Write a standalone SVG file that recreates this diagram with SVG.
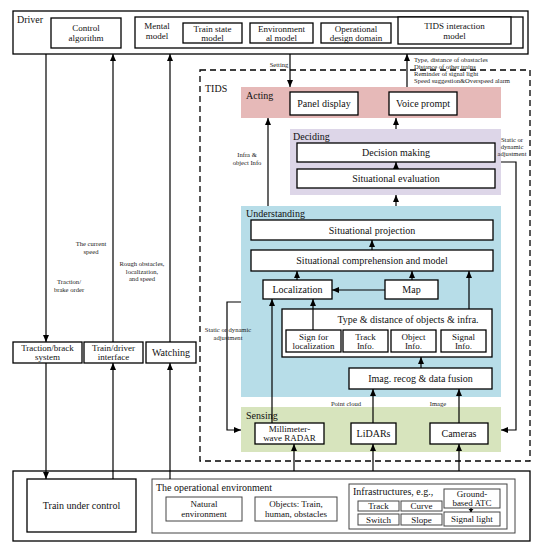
<svg xmlns="http://www.w3.org/2000/svg" width="542" height="550" viewBox="0 0 542 550">
<style>
.box{fill:#fff;stroke:#000;stroke-width:1.3}
.gbox{fill:#fff;stroke:#444;stroke-width:1}
.ln{fill:none;stroke:#000;stroke-width:1.2}
.t{font-family:"Liberation Serif","Times New Roman",serif;font-size:10px;fill:#111;text-anchor:middle}
.t2{font-family:"Liberation Serif","Times New Roman",serif;font-size:9px;fill:#111;text-anchor:middle}
.tl{font-family:"Liberation Serif","Times New Roman",serif;font-size:10px;fill:#111}
.s{font-family:"Liberation Serif","Times New Roman",serif;font-size:6.6px;fill:#222;text-anchor:middle}
.sl{font-family:"Liberation Serif","Times New Roman",serif;font-size:6.6px;fill:#222}
</style>
<defs>
<marker id="ah" markerUnits="userSpaceOnUse" markerWidth="7" markerHeight="6" refX="7" refY="3" orient="auto">
<path d="M0,0 L7,3 L0,6 z" fill="#000"/>
</marker>
</defs>
<rect width="542" height="550" fill="#fff"/>

<g id="driver">
<rect x="13" y="11" width="515" height="43" class="box"/>
<text x="17" y="23" class="tl">Driver</text>
</g>
<g id="control-algorithm">
<rect x="51" y="18" width="70" height="30" class="box"/>
<text x="86" y="30.5" class="t2">Control</text>
<text x="86" y="40.5" class="t2">algorithm</text>
</g>
<g id="mental-model">
<rect x="135" y="17" width="388" height="31" class="box"/>
<text x="157" y="28.5" class="t2">Mental</text>
<text x="157" y="38.5" class="t2">model</text>
</g>
<g id="train-state-model">
<rect x="183" y="23" width="59" height="20" class="box"/>
<text x="212.5" y="31.5" class="t2">Train state</text>
<text x="212.5" y="40.5" class="t2">model</text>
</g>
<g id="environmental-model">
<rect x="250" y="23" width="63" height="20" class="box"/>
<text x="281.5" y="31.5" class="t2">Environment</text>
<text x="281.5" y="40.5" class="t2">al model</text>
</g>
<g id="odd">
<rect x="321" y="23" width="70" height="20" class="box"/>
<text x="356" y="31.5" class="t2">Operational</text>
<text x="356" y="40.5" class="t2">design domain</text>
</g>
<g id="tids-interaction-model">
<rect x="398" y="17" width="113" height="27" class="box"/>
<text x="454.5" y="28.5" class="t2">TIDS interaction</text>
<text x="454.5" y="38.5" class="t2">model</text>
</g>

<g id="tids">
<rect x="200" y="70" width="330" height="391" fill="none" stroke="#000" stroke-width="1.3" stroke-dasharray="6,4"/>
<text x="205" y="92" class="tl" font-size="11">TIDS</text>
</g>

<g id="acting">
<rect x="241" y="87" width="260" height="31" fill="#e6b9b8"/>
<text x="246" y="99" class="tl">Acting</text>
</g>
<g id="panel-display">
<rect x="290" y="92" width="68" height="23" class="box"/>
<text x="324" y="107" class="t">Panel display</text>
</g>
<g id="voice-prompt">
<rect x="389" y="92" width="68" height="23" class="box"/>
<text x="423" y="107" class="t">Voice prompt</text>
</g>

<g id="deciding">
<rect x="290" y="129" width="211" height="66" fill="#ddd6e8"/>
<text x="293" y="140" class="tl">Deciding</text>
</g>
<g id="decision-making">
<rect x="297" y="143" width="198" height="19" class="box"/>
<text x="396" y="156" class="t">Decision making</text>
</g>
<g id="situational-evaluation">
<rect x="297" y="169" width="198" height="19" class="box"/>
<text x="396" y="182" class="t">Situational evaluation</text>
</g>

<g id="understanding">
<rect x="241" y="206" width="260" height="191" fill="#b7dde8"/>
<text x="246" y="217" class="tl">Understanding</text>
</g>
<g id="situational-projection">
<rect x="251" y="220" width="242" height="20" class="box"/>
<text x="372" y="233.5" class="t">Situational projection</text>
</g>
<g id="situational-comprehension">
<rect x="251" y="250" width="242" height="21" class="box"/>
<text x="372" y="264" class="t">Situational comprehension and model</text>
</g>
<g id="localization">
<rect x="263" y="280" width="69" height="19" class="box"/>
<text x="297.5" y="293" class="t">Localization</text>
</g>
<g id="map">
<rect x="385" y="280" width="53" height="19" class="box"/>
<text x="411.5" y="293" class="t">Map</text>
</g>
<g id="type-distance">
<rect x="282" y="309" width="210" height="48" class="box"/>
<text x="408" y="323" class="t">Type &amp; distance of objects &amp; infra.</text>
</g>
<g id="sign-for-localization">
<rect x="286" y="330" width="55" height="22" class="box"/>
<text x="313.5" y="339.5" class="t2">Sign for</text>
<text x="313.5" y="348.5" class="t2">localization</text>
</g>
<g id="track-info">
<rect x="343" y="330" width="45" height="22" class="box"/>
<text x="365.5" y="339.5" class="t2">Track</text>
<text x="365.5" y="348.5" class="t2">Info.</text>
</g>
<g id="object-info">
<rect x="391" y="330" width="45" height="22" class="box"/>
<text x="413.5" y="339.5" class="t2">Object</text>
<text x="413.5" y="348.5" class="t2">Info.</text>
</g>
<g id="signal-info">
<rect x="441" y="330" width="45" height="22" class="box"/>
<text x="463.5" y="339.5" class="t2">Signal</text>
<text x="463.5" y="348.5" class="t2">Info.</text>
</g>
<g id="fusion">
<rect x="349" y="368" width="143" height="21" class="box"/>
<text x="420.5" y="382" class="t">Imag. recog &amp; data fusion</text>
</g>

<g id="sensing">
<rect x="241" y="407" width="260" height="45" fill="#d7e4bd"/>
<text x="246" y="419" class="tl">Sensing</text>
</g>
<g id="radar">
<rect x="255" y="423" width="69" height="21" class="box"/>
<text x="289.5" y="431.5" class="t2">Millimeter-</text>
<text x="289.5" y="440.5" class="t2">wave RADAR</text>
</g>
<g id="lidars">
<rect x="351" y="423" width="45" height="21" class="box"/>
<text x="373.5" y="437" class="t">LiDARs</text>
</g>
<g id="cameras">
<rect x="430" y="423" width="58" height="21" class="box"/>
<text x="459" y="437" class="t">Cameras</text>
</g>

<g id="traction-brake-system">
<rect x="13" y="342" width="69" height="21" class="box"/>
<text x="47.5" y="351" class="t2">Traction/brack</text>
<text x="47.5" y="360" class="t2">system</text>
</g>
<g id="train-driver-interface">
<rect x="84" y="342" width="59" height="21" class="box"/>
<text x="113.5" y="351" class="t2">Train/driver</text>
<text x="113.5" y="360" class="t2">interface</text>
</g>
<g id="watching">
<rect x="146" y="342" width="50" height="21" class="box"/>
<text x="171" y="356" class="t">Watching</text>
</g>

<g id="bottom-frame">
<rect x="13" y="471" width="517" height="70" class="box"/>
</g>
<g id="train-under-control">
<rect x="27" y="479" width="109" height="53" class="box"/>
<text x="81.5" y="509" class="t">Train under control</text>
</g>
<g id="operational-environment">
<rect x="152" y="479" width="363" height="54" class="gbox"/>
<text x="156" y="491" class="tl">The operational environment</text>
</g>
<g id="natural-environment">
<rect x="166" y="497" width="76" height="24" class="gbox"/>
<text x="204" y="507" class="t2">Natural</text>
<text x="204" y="516.5" class="t2">environment</text>
</g>
<g id="objects">
<rect x="255" y="497" width="82" height="24" class="gbox"/>
<text x="296" y="507" class="t2">Objects: Train,</text>
<text x="296" y="516.5" class="t2">human, obstacles</text>
</g>
<g id="infrastructures">
<rect x="349" y="484" width="158" height="45" class="gbox"/>
<text x="353" y="495" class="tl" font-size="9.5">Infrastructures, e.g.,</text>
</g>
<g id="track">
<rect x="358" y="501" width="41" height="10" class="gbox"/>
<text x="378.5" y="509" class="t2">Track</text>
</g>
<g id="curve">
<rect x="401" y="501" width="41" height="10" class="gbox"/>
<text x="421.5" y="509" class="t2">Curve</text>
</g>
<g id="switch">
<rect x="358" y="514" width="41" height="11" class="gbox"/>
<text x="378.5" y="522.5" class="t2">Switch</text>
</g>
<g id="slope">
<rect x="401" y="514" width="41" height="11" class="gbox"/>
<text x="421.5" y="522.5" class="t2">Slope</text>
</g>
<g id="ground-based-atc">
<rect x="444" y="489" width="56" height="19" class="gbox"/>
<text x="472" y="497" class="t2">Ground-</text>
<text x="472" y="506" class="t2">based ATC</text>
</g>
<g id="signal-light">
<rect x="444" y="512" width="56" height="14" class="gbox"/>
<text x="472" y="522" class="t2">Signal light</text>
</g>

<g id="connectors">
<path class="ln" d="M46,54 V342" marker-end="url(#ah)"/>
<path class="ln" d="M113,342 V54" marker-end="url(#ah)"/>
<path class="ln" d="M170,342 V54" marker-end="url(#ah)"/>
<path class="ln" d="M46,363 V479" marker-end="url(#ah)"/>
<path class="ln" d="M113,479 V363" marker-end="url(#ah)"/>
<path class="ln" d="M170,479 V363" marker-end="url(#ah)"/>
<path class="ln" d="M290,54 V87" marker-end="url(#ah)"/>
<path class="ln" d="M407,87 V54" marker-end="url(#ah)"/>
<path class="ln" d="M268,206 V118" marker-end="url(#ah)"/>
<path class="ln" d="M396,129 V118" marker-end="url(#ah)"/>
<path class="ln" d="M396,169 V162" marker-end="url(#ah)"/>
<path class="ln" d="M396,206 V195" marker-end="url(#ah)"/>
<path class="ln" d="M372,250 V240" marker-end="url(#ah)"/>
<path class="ln" d="M297,280 V271" marker-end="url(#ah)"/>
<path class="ln" d="M412,280 V271" marker-end="url(#ah)"/>
<path class="ln" d="M385,290 H332" marker-end="url(#ah)"/>
<path class="ln" d="M469,309 V271" marker-end="url(#ah)"/>
<path class="ln" d="M313,330 V299" marker-end="url(#ah)"/>
<path class="ln" d="M272,423 V299" marker-end="url(#ah)"/>
<path class="ln" d="M421,368 V357" marker-end="url(#ah)"/>
<path class="ln" d="M373,423 V389" marker-end="url(#ah)"/>
<path class="ln" d="M459,423 V389" marker-end="url(#ah)"/>
<path class="ln" d="M501,162 H516 V430 H501" marker-end="url(#ah)"/>
<path class="ln" d="M241,302 H227 V430 H241" marker-end="url(#ah)"/>
<path class="ln" d="M294,471 V444" marker-end="url(#ah)"/>
<path class="ln" d="M373,471 V444" marker-end="url(#ah)"/>
<path class="ln" d="M459,471 V444" marker-end="url(#ah)"/>
<path class="ln" d="M471,508 V512" stroke-width="0.8"/>
<path d="M468.5,509 L473.5,509 L471,512 z" fill="#000"/>

<text x="91" y="246" class="s">The current</text>
<text x="91" y="253.5" class="s">speed</text>
<text x="142" y="266" class="s">Rough obstacles,</text>
<text x="142" y="273.5" class="s">localization,</text>
<text x="142" y="281" class="s">and speed</text>
<text x="69" y="284" class="s">Traction/</text>
<text x="69" y="291.5" class="s">brake order</text>
<text x="279" y="66.5" class="s">Setting</text>
<text x="414" y="62" class="sl">Type, distance of obastacles</text>
<text x="414" y="69" class="sl">Distance of other trains</text>
<text x="414" y="76" class="sl">Reminder of signal light</text>
<text x="414" y="83" class="sl">Speed suggestion&amp;Overspeed alarm</text>
<text x="247" y="157" class="s">Infra &amp;</text>
<text x="247" y="164.5" class="s">object Info</text>
<text x="512" y="141.5" class="s">Static or</text>
<text x="512" y="148.5" class="s">dynamic</text>
<text x="512" y="155.5" class="s">adjustment</text>
<text x="228" y="332" class="s">Static or dynamic</text>
<text x="228" y="339.5" class="s">adjustment</text>
<text x="346" y="405.5" class="s">Point cloud</text>
<text x="438" y="405.5" class="s">Image</text>
</g>
</svg>
